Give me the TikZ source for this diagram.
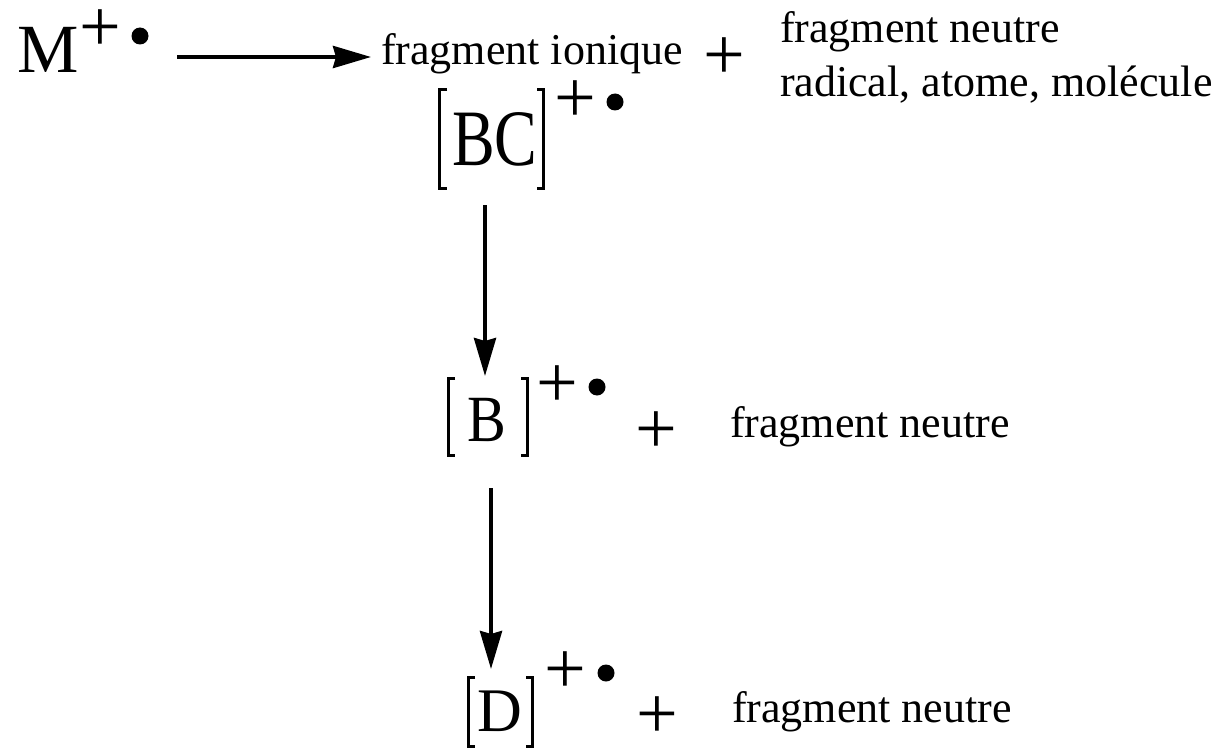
\documentclass[tikz,border=0pt]{standalone}
\usepackage{fontspec}
\setmainfont{Liberation Serif}
\usetikzlibrary{arrows.meta}
\tikzset{
  txt/.style={inner sep=0pt, outer sep=0pt, anchor=base west, font=\fontsize{44}{54}\selectfont},
  plussign/.style={inner sep=0pt, outer sep=0pt, anchor=center, font=\fontsize{74}{74}\selectfont},
  raddot/.style={circle, fill=black, draw=none, inner sep=0pt, minimum size=17pt},
  arr/.style={line width=4pt, -{Stealth[length=38pt, width=22pt, inset=3pt]}},
  brk/.style={line width=3pt}
}
\begin{document}
\begin{tikzpicture}[x=1pt, y=-1pt]
\useasboundingbox (0,0) rectangle (1223,749);
% M+.
\node[txt, font=\fontsize{69}{69}\selectfont] (M) at (17,73) {M};
\node[plussign] (pM) at (100,31) {+};
\node[raddot] (dM) at (140,36) {};
% arrow 1
\coordinate (a1s) at (177,57);
\coordinate (a1e) at (371,57);
\node[txt] (fi) at (381,65) {fragment ionique};
\draw[arr] (a1s) -- (a1e);
\node[plussign] (p1) at (724,59) {+};
\node[txt] (fn1) at (780,43) {fragment neutre};
\node[txt] (fn1b) at (780,97) {radical, atome, molécule};
% [BC]
\node[txt, font=\fontsize{80}{80}\selectfont] (BC) at (452,165) {\scalebox{0.8}[1]{BC}};
\draw[brk] (447,90) -- (439,90) -- (439,188) -- (447,188);
\draw[brk] (537,90) -- (543,90) -- (543,188) -- (537,188);
\node[plussign] (pBC) at (575,102) {+};
\node[raddot] (dBC) at (615,102) {};
% [B]
\node[txt, font=\fontsize{66}{66}\selectfont] (B) at (467,441) {\scalebox{0.88}[1]{B}};
\draw[brk] (455,378) -- (448,378) -- (448,455) -- (455,455);
\draw[brk] (521,378) -- (527,378) -- (527,455) -- (521,455);
\node[plussign] (pB) at (557,387) {+};
\node[raddot] (dB) at (597,387) {};
\node[plussign] (p2) at (656,433) {+};
\node[txt] (fn2) at (730,437) {fragment neutre};
% [D]
\node[txt, font=\fontsize{62}{62}\selectfont] (D) at (477,731) {D};
\draw[brk] (475,677) -- (468,677) -- (468,746) -- (475,746);
\draw[brk] (526,677) -- (532,677) -- (532,746) -- (526,746);
\node[plussign] (pD) at (565,673) {+};
\node[raddot] (dD) at (606,673) {};
\node[plussign] (p3) at (657,718) {+};
\node[txt] (fn3) at (732,722) {fragment neutre};
% vertical arrows
\coordinate (a2s) at (485,205);
\coordinate (a2e) at (485,376);
\draw[arr] (a2s) -- (a2e);
\coordinate (a3s) at (491,488);
\coordinate (a3e) at (491,669);
\draw[arr] (a3s) -- (a3e);
\end{tikzpicture}
\end{document}
